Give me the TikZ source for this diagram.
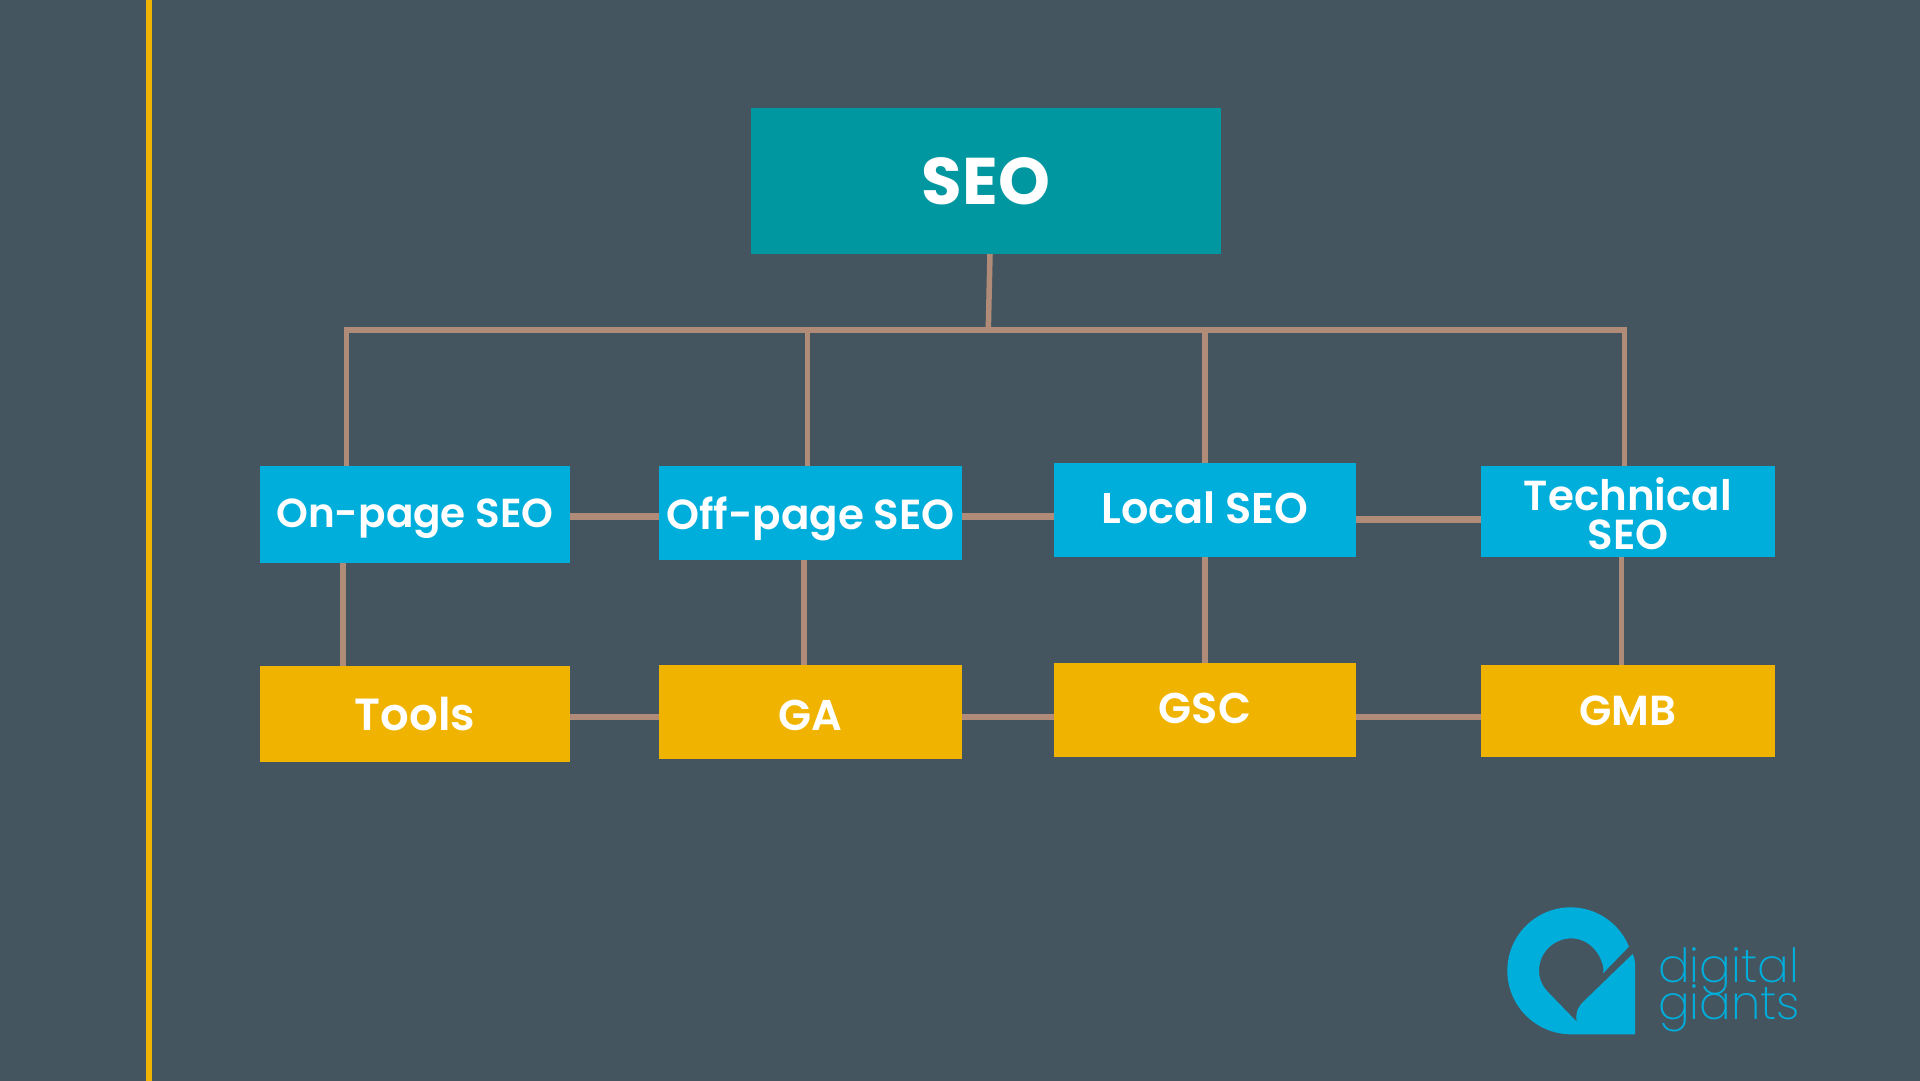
\documentclass[tikz,border=0pt]{standalone}
\usepackage{fontspec}
\setmainfont{Poppins}[UprightFont=* SemiBold,BoldFont=* Bold]
\newfontfamily\logofont{Poppins}[UprightFont=* ExtraLight]
\definecolor{bgc}{HTML}{455560}
\definecolor{tealc}{HTML}{0097A1}
\definecolor{bluec}{HTML}{00AEDC}
\definecolor{yelc}{HTML}{F0B400}
\definecolor{linec}{HTML}{B08B77}
\tikzset{
  x=1pt,y=-1pt,
  box/.style={inner sep=0pt,outer sep=0pt,text=white,align=center},
  bluebox/.style={box,fill=bluec},
  yelbox/.style={box,fill=yelc},
  conn/.style={draw=linec,line width=5.5pt},
  thick conn/.style={draw=linec,line width=6.5pt},
  logotext/.style={anchor=base west,inner sep=0pt,text=bluec,font=\logofont\fontsize{47}{47}\selectfont},
}
\begin{document}
\begin{tikzpicture}
\useasboundingbox (0,0) rectangle (1920,1080);
\fill[bgc] (-5,-5) rectangle (1925,1085);
\fill[yelc] (146,-5) rectangle (151.5,1085);
% boxes
\node[box,fill=tealc,minimum width=470pt,minimum height=146pt,font=\bfseries\fontsize{66}{66}\selectfont] (seo) at (986,181) {SEO};
\node[bluebox,minimum width=310pt,minimum height=97pt] (onp) at (415,514.7) {};
\node[bluebox,minimum width=302.5pt,minimum height=94pt] (offp) at (810.5,513) {};
\node[bluebox,minimum width=302.5pt,minimum height=94pt] (loc) at (1205,510.3) {};
\node[bluebox,minimum width=294pt,minimum height=91.3pt] (tech) at (1627.5,511.7) {};
\node[yelbox,minimum width=310pt,minimum height=96.3pt] (tools) at (415,714.2) {};
\node[yelbox,minimum width=302.5pt,minimum height=94.3pt] (ga) at (810.5,712.2) {};
\node[yelbox,minimum width=302.5pt,minimum height=94pt] (gsc) at (1205,709.7) {};
\node[yelbox,minimum width=294pt,minimum height=91.7pt] (gmb) at (1627.5,710.9) {};
% labels
\node[box,font=\fontsize{40.5}{40.5}\selectfont] (tonp) at (415,519) {On-page SEO};
\node[box,font=\fontsize{42}{42}\selectfont] (toff) at (810.5,518.5) {Off-page SEO};
\node[box,font=\fontsize{43}{43}\selectfont] (tloc) at (1205,507.5) {Local SEO};
\node[box,font=\fontsize{42}{39}\selectfont] (ttech) at (1628,514) {Technical\\SEO};
\node[box,font=\fontsize{45}{45}\selectfont] (ttools) at (415,714.5) {Tools};
\node[box,font=\fontsize{43}{43}\selectfont] (tga) at (810.5,715) {GA};
\node[box,font=\fontsize{43}{43}\selectfont] (tgsc) at (1205,708.5) {GSC};
\node[box,font=\fontsize{42}{42}\selectfont] (tgmb) at (1628,711) {GMB};
% connectors
\coordinate (busL) at (346.6,330);
\coordinate (busA) at (807.5,330);
\coordinate (busM) at (988.3,330);
\coordinate (busB) at (1205,330);
\coordinate (busR) at (1624.6,330);
\coordinate (seoout) at (990,254);
\draw[conn] (seoout) -- (busM);
\draw[conn,line join=miter] (busL |- onp.north) -- (busL) -- (busR) -- (busR |- tech.north);
\draw[conn] (busA) -- (busA |- offp.north);
\draw[conn] (busB) -- (busB |- loc.north);
\coordinate (h1) at (600,516.5);
\coordinate (h2) at (1000,516.5);
\coordinate (h3) at (1400,519.3);
\coordinate (h4) at (600,717);
\draw[thick conn] (onp.east |- h1) -- (offp.west |- h1);
\draw[thick conn] (offp.east |- h2) -- (loc.west |- h2);
\draw[thick conn] (loc.east |- h3) -- (tech.west |- h3);
\draw[thick conn] (tools.east |- h4) -- (ga.west |- h4);
\draw[thick conn] (ga.east |- h4) -- (gsc.west |- h4);
\draw[thick conn] (gsc.east |- h4) -- (gmb.west |- h4);
\coordinate (v1) at (343.2,600);
\coordinate (v2) at (804.2,600);
\coordinate (v3) at (1204.8,600);
\coordinate (v4) at (1621.7,600);
\draw[conn] (v1 |- onp.south) -- (v1 |- tools.north);
\draw[conn] (v2 |- offp.south) -- (v2 |- ga.north);
\draw[conn] (v3 |- loc.south) -- (v3 |- gsc.north);
\draw[conn] (v4 |- tech.south) -- (v4 |- gmb.north);
% logo
\begin{scope}[shift={(1480,880)},x=0.3333pt,y=-0.3333pt]
\fill[bluec] (447,200) .. controls (418,129) and (349,82) .. (272,82)
  .. controls (167,82) and (82,167) .. (82,272)
  .. controls (82,377) and (167,462) .. (272,463)
  -- (465,463) -- (465,250) .. controls (465,240) and (462,230) .. (458,222)
  -- (310,365) .. controls (290,385) and (286,405) .. (290,425)
  -- (205,337) .. controls (188,320) and (177,298) .. (177,272)
  .. controls (177,218) and (221,175) .. (275,175)
  .. controls (315,175) and (352,205) .. (365,245)
  .. controls (370,258) and (372,270) .. (369,280) -- cycle;
\end{scope}
\node[logotext] (lg1) at (1658,982) {digital};
\node[logotext] (lg2) at (1658,1019) {giants};
\end{tikzpicture}
\end{document}
